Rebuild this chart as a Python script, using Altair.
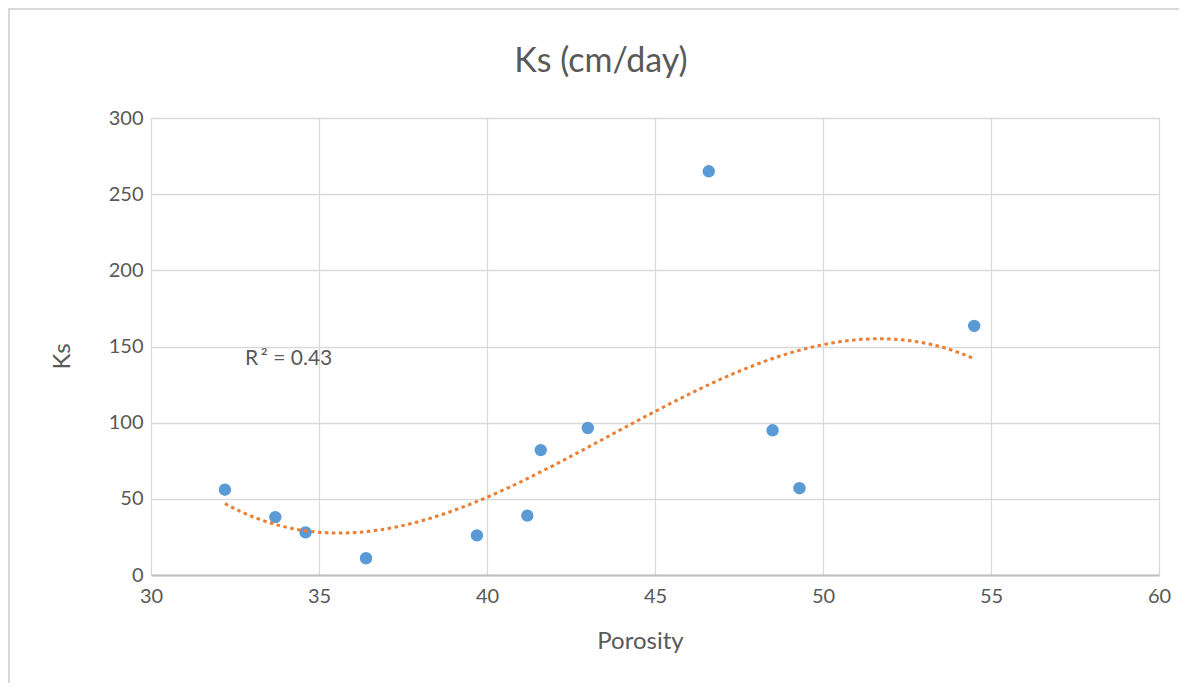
import altair as alt
import pandas as pd

# Data
porosity = [32.2, 33.7, 34.6, 36.4, 39.7, 41.2, 41.6, 43.0, 46.6, 48.5, 49.3, 54.5]
ks = [56, 38, 28, 11, 26, 39, 82, 96.5, 265, 95, 57, 163.5]
x_ticks = [30, 35, 40, 45, 50, 55, 60]
y_ticks = [0, 50, 100, 150, 200, 250, 300]
title_text = "Ks (cm/day)"
r2_label = "R\u2009\u00b2 = 0.43"
r2_pos = {"Porosity": 32.8, "Ks": 142}

df = pd.DataFrame({"Porosity": porosity, "Ks": ks})

FONT = "Lato"
TXT = "#595959"
GRID = "#D9D9D9"

x_enc = alt.X("Porosity:Q",
              scale=alt.Scale(domain=[30, 60], nice=False, zero=False),
              axis=alt.Axis(values=x_ticks, title="Porosity", grid=True,
                            gridColor=GRID, gridWidth=1.3, ticks=False,
                            domain=True, domainColor="#BFBFBF", domainWidth=2,
                            labelFlush=False,
                            labelFont=FONT, labelFontSize=20, labelColor=TXT,
                            labelPadding=11,
                            titleFont=FONT, titleFontSize=24, titleColor=TXT,
                            titleFontWeight="normal",
                            titleX=489, titleY=66, titleBaseline="middle"))
y_enc = alt.Y("Ks:Q",
              scale=alt.Scale(domain=[0, 300], nice=False),
              axis=alt.Axis(values=y_ticks, title="Ks", grid=True,
                            gridColor=GRID, gridWidth=1.3, ticks=False,
                            domain=False, labelFlush=False,
                            labelFont=FONT, labelFontSize=20, labelColor=TXT,
                            labelPadding=8,
                            titleFont=FONT, titleFontSize=24, titleColor=TXT,
                            titleFontWeight="normal",
                            titleX=-89, titleY=238, titleBaseline="middle"))

base = alt.Chart(df)

points = base.mark_circle(size=154, opacity=1, color="#5B9BD5").encode(x=x_enc, y=y_enc)

trend = base.transform_regression("Porosity", "Ks", method="poly", order=3).mark_line(
    color="#ED7D31", strokeWidth=3, strokeDash=[3.5, 3.5], strokeCap="butt"
).encode(x="Porosity:Q", y="Ks:Q")

r2 = alt.Chart(pd.DataFrame([{**r2_pos, "label": r2_label}])).mark_text(
    align="left", baseline="middle", font=FONT, fontSize=21, color=TXT
).encode(x="Porosity:Q", y="Ks:Q", text="label:N")

title = alt.Chart(alt.Data(values=[{"t": title_text}])).mark_text(
    align="center", baseline="middle", font=FONT, fontSize=34, color=TXT
).encode(x=alt.value(450), y=alt.value(-56), text="t:N")

border = alt.Chart(alt.Data(values=[{}])).mark_rect(
    fill=None, stroke=GRID, strokeWidth=2
).encode(x=alt.value(-142), x2=alt.value(1060), y=alt.value(-109), y2=alt.value(600))

chart = alt.layer(border, points, trend, r2, title).properties(
    width=1008, height=457,
    autosize=alt.AutoSizeParams(type="none"),
    padding={"left": 143, "top": 110, "right": 20, "bottom": 108},
).configure_view(stroke=None).configure(background="white")

chart.save("out.html", embed_options={"renderer": "svg", "actions": False})
